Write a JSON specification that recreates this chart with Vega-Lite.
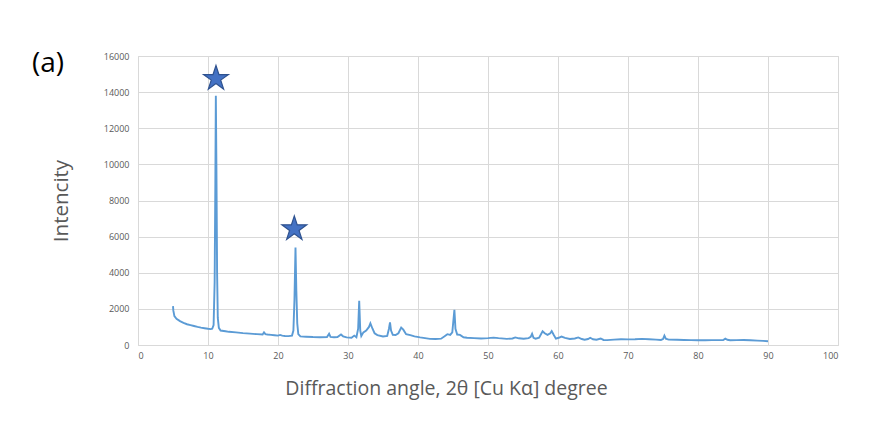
{
  "$schema": "https://vega.github.io/schema/vega-lite/v6.json",
  "width": 700,
  "height": 289,
  "autosize": {"type": "none"},
  "padding": {"left": 138, "top": 56, "right": 43, "bottom": 92},
  "background": "white",
  "config": {
    "view": {"stroke": "#d9d9d9", "strokeWidth": 1},
    "font": "Open Sans"
  },
  "title": {
    "text": "(a)",
    "anchor": "start",
    "frame": "group",
    "orient": "top",
    "fontSize": 28,
    "fontWeight": "normal",
    "font": "Open Sans",
    "color": "#000000",
    "baseline": "alphabetic",
    "offset": 0,
    "dx": -106,
    "dy": 48
  },
  "datasets": {
    "xrd": [
      {"angle": 5.0, "intensity": 2150}, {"angle": 5.05, "intensity": 1900}, {"angle": 5.2, "intensity": 1600},
      {"angle": 5.5, "intensity": 1450}, {"angle": 6.0, "intensity": 1320}, {"angle": 6.5, "intensity": 1220},
      {"angle": 7.0, "intensity": 1150}, {"angle": 7.5, "intensity": 1100}, {"angle": 8.0, "intensity": 1050},
      {"angle": 8.5, "intensity": 1000}, {"angle": 9.0, "intensity": 960}, {"angle": 9.5, "intensity": 930},
      {"angle": 10.0, "intensity": 900}, {"angle": 10.4, "intensity": 880}, {"angle": 10.6, "intensity": 900},
      {"angle": 10.8, "intensity": 1100}, {"angle": 10.95, "intensity": 3500}, {"angle": 11.05, "intensity": 9000},
      {"angle": 11.12, "intensity": 13800}, {"angle": 11.2, "intensity": 10000}, {"angle": 11.3, "intensity": 4000},
      {"angle": 11.4, "intensity": 1500}, {"angle": 11.55, "intensity": 950}, {"angle": 11.8, "intensity": 800},
      {"angle": 12.5, "intensity": 760}, {"angle": 13.0, "intensity": 730}, {"angle": 14.0, "intensity": 700},
      {"angle": 15.0, "intensity": 660}, {"angle": 16.0, "intensity": 630}, {"angle": 17.0, "intensity": 600},
      {"angle": 17.8, "intensity": 580}, {"angle": 18.0, "intensity": 700}, {"angle": 18.2, "intensity": 600},
      {"angle": 18.5, "intensity": 580}, {"angle": 19.0, "intensity": 560}, {"angle": 19.5, "intensity": 540},
      {"angle": 20.0, "intensity": 520}, {"angle": 20.3, "intensity": 560}, {"angle": 20.6, "intensity": 520},
      {"angle": 21.0, "intensity": 500}, {"angle": 21.5, "intensity": 490}, {"angle": 22.0, "intensity": 520},
      {"angle": 22.2, "intensity": 800}, {"angle": 22.35, "intensity": 2500}, {"angle": 22.5, "intensity": 5400},
      {"angle": 22.62, "intensity": 3000}, {"angle": 22.75, "intensity": 1200}, {"angle": 22.9, "intensity": 600},
      {"angle": 23.2, "intensity": 480}, {"angle": 24.0, "intensity": 460}, {"angle": 25.0, "intensity": 440},
      {"angle": 26.0, "intensity": 430}, {"angle": 27.0, "intensity": 440}, {"angle": 27.3, "intensity": 620},
      {"angle": 27.5, "intensity": 450}, {"angle": 28.0, "intensity": 430}, {"angle": 28.5, "intensity": 440},
      {"angle": 29.0, "intensity": 580}, {"angle": 29.3, "intensity": 480}, {"angle": 29.8, "intensity": 420},
      {"angle": 30.5, "intensity": 400}, {"angle": 30.9, "intensity": 520}, {"angle": 31.2, "intensity": 430},
      {"angle": 31.45, "intensity": 900}, {"angle": 31.6, "intensity": 2450}, {"angle": 31.75, "intensity": 800},
      {"angle": 31.9, "intensity": 500}, {"angle": 32.2, "intensity": 700}, {"angle": 32.6, "intensity": 800},
      {"angle": 33.0, "intensity": 1000}, {"angle": 33.2, "intensity": 1200}, {"angle": 33.5, "intensity": 900},
      {"angle": 33.8, "intensity": 650}, {"angle": 34.2, "intensity": 550}, {"angle": 35.0, "intensity": 470},
      {"angle": 35.6, "intensity": 500}, {"angle": 35.85, "intensity": 900}, {"angle": 36.0, "intensity": 1250},
      {"angle": 36.15, "intensity": 800}, {"angle": 36.4, "intensity": 560}, {"angle": 36.8, "intensity": 550},
      {"angle": 37.2, "intensity": 650}, {"angle": 37.6, "intensity": 960}, {"angle": 37.9, "intensity": 850},
      {"angle": 38.3, "intensity": 600}, {"angle": 38.9, "intensity": 550}, {"angle": 39.5, "intensity": 480},
      {"angle": 40.3, "intensity": 420}, {"angle": 41.0, "intensity": 380}, {"angle": 41.7, "intensity": 340},
      {"angle": 42.5, "intensity": 330}, {"angle": 43.3, "intensity": 350}, {"angle": 43.8, "intensity": 480},
      {"angle": 44.2, "intensity": 600}, {"angle": 44.6, "intensity": 560}, {"angle": 44.9, "intensity": 700},
      {"angle": 45.2, "intensity": 1950}, {"angle": 45.35, "intensity": 900}, {"angle": 45.6, "intensity": 580},
      {"angle": 46.0, "intensity": 560}, {"angle": 46.5, "intensity": 430}, {"angle": 47.0, "intensity": 400},
      {"angle": 48.0, "intensity": 380}, {"angle": 49.0, "intensity": 360}, {"angle": 50.0, "intensity": 380},
      {"angle": 50.8, "intensity": 410}, {"angle": 51.5, "intensity": 380}, {"angle": 52.7, "intensity": 340},
      {"angle": 53.5, "intensity": 360}, {"angle": 53.9, "intensity": 420}, {"angle": 54.4, "intensity": 370},
      {"angle": 55.1, "intensity": 350}, {"angle": 55.8, "intensity": 380}, {"angle": 56.1, "intensity": 450},
      {"angle": 56.3, "intensity": 620}, {"angle": 56.5, "intensity": 400}, {"angle": 56.8, "intensity": 350},
      {"angle": 57.3, "intensity": 400}, {"angle": 57.8, "intensity": 760}, {"angle": 58.1, "intensity": 650},
      {"angle": 58.5, "intensity": 560}, {"angle": 58.9, "intensity": 650}, {"angle": 59.1, "intensity": 770},
      {"angle": 59.4, "intensity": 550}, {"angle": 59.7, "intensity": 350}, {"angle": 60.1, "intensity": 400},
      {"angle": 60.5, "intensity": 470}, {"angle": 61.0, "intensity": 390}, {"angle": 61.7, "intensity": 330},
      {"angle": 62.4, "intensity": 360}, {"angle": 62.9, "intensity": 420}, {"angle": 63.4, "intensity": 330},
      {"angle": 63.8, "intensity": 290}, {"angle": 64.3, "intensity": 330}, {"angle": 64.6, "intensity": 400},
      {"angle": 65.0, "intensity": 320}, {"angle": 65.5, "intensity": 290}, {"angle": 66.1, "intensity": 360},
      {"angle": 66.5, "intensity": 280}, {"angle": 67.0, "intensity": 270}, {"angle": 68.0, "intensity": 300},
      {"angle": 69.0, "intensity": 320}, {"angle": 70.0, "intensity": 310}, {"angle": 71.0, "intensity": 320},
      {"angle": 72.0, "intensity": 340}, {"angle": 73.0, "intensity": 320}, {"angle": 74.0, "intensity": 300},
      {"angle": 74.7, "intensity": 280}, {"angle": 75.0, "intensity": 330}, {"angle": 75.2, "intensity": 520},
      {"angle": 75.4, "intensity": 350}, {"angle": 75.8, "intensity": 300}, {"angle": 77.0, "intensity": 290},
      {"angle": 78.0, "intensity": 280}, {"angle": 79.0, "intensity": 270}, {"angle": 80.0, "intensity": 260},
      {"angle": 81.0, "intensity": 260}, {"angle": 82.0, "intensity": 270}, {"angle": 83.0, "intensity": 270},
      {"angle": 83.6, "intensity": 280}, {"angle": 83.9, "intensity": 350}, {"angle": 84.2, "intensity": 290},
      {"angle": 84.6, "intensity": 260}, {"angle": 85.5, "intensity": 270}, {"angle": 86.5, "intensity": 280},
      {"angle": 87.5, "intensity": 260}, {"angle": 88.5, "intensity": 240}, {"angle": 89.3, "intensity": 230},
      {"angle": 90.0, "intensity": 210}
    ],
    "stars": [
      {"angle": 11.14, "intensity": 14750},
      {"angle": 22.33, "intensity": 6430}
    ]
  },
  "encoding": {
    "x": {
      "field": "angle", "type": "quantitative",
      "scale": {"domain": [0, 100], "nice": false, "zero": false},
      "axis": {
        "values": [0, 10, 20, 30, 40, 50, 60, 70, 80, 90, 100],
        "title": "Diffraction angle, 2θ [Cu Kα] degree",
        "titleFont": "Open Sans", "titleFontSize": 19.5, "titleFontWeight": "normal",
        "titleColor": "#595959", "titlePadding": 19, "titleX": 308, "titleAlign": "center",
        "labelFont": "Open Sans", "labelFontSize": 9, "labelColor": "#595959", "labelPadding": 6,
        "ticks": false, "domain": false,
        "grid": true, "gridColor": "#d9d9d9", "gridWidth": 1
      }
    },
    "y": {
      "field": "intensity", "type": "quantitative",
      "scale": {"domain": [0, 16000], "nice": false},
      "axis": {
        "values": [0, 2000, 4000, 6000, 8000, 10000, 12000, 14000, 16000],
        "format": "d",
        "title": "Intencity",
        "titleFont": "Open Sans", "titleFontSize": 20.5, "titleFontWeight": "normal",
        "titleColor": "#595959", "titlePadding": 32,
        "labelFont": "Open Sans", "labelFontSize": 9, "labelColor": "#595959", "labelPadding": 9,
        "ticks": false, "domain": false,
        "grid": true, "gridColor": "#d9d9d9", "gridWidth": 1
      }
    }
  },
  "layer": [
    {
      "data": {"name": "xrd"},
      "mark": {"type": "line", "color": "#5B9BD5", "strokeWidth": 1.9}
    },
    {
      "data": {"name": "stars"},
      "mark": {
        "type": "point",
        "shape": "M0,-1L0.2245,-0.309L0.951,-0.309L0.3633,0.118L0.5878,0.809L0,0.382L-0.5878,0.809L-0.3633,0.118L-0.951,-0.309L-0.2245,-0.309Z",
        "filled": true, "size": 680, "color": "#4472C4", "stroke": "#2F528F", "strokeWidth": 1.2, "opacity": 1
      }
    }
  ]
}
